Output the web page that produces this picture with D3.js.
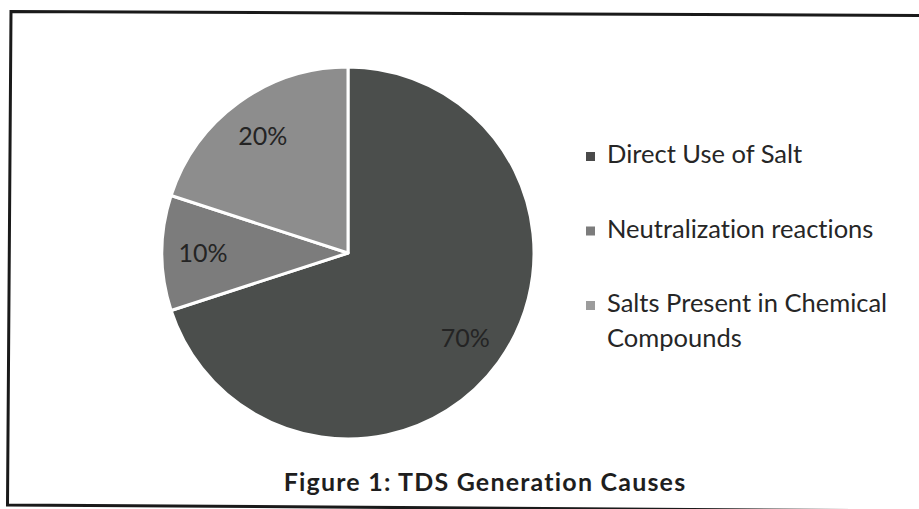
<!DOCTYPE html>
<html>
<head>
<meta charset="utf-8">
<script src="https://cdn.jsdelivr.net/npm/d3@7/dist/d3.min.js"></script>
<style>
  html, body { margin: 0; padding: 0; background: #ffffff; }
  svg { display: block; }
  text { font-variant-ligatures: none; }
</style>
</head>
<body>
<svg id="chart" width="919" height="509"></svg>
<script>
const categories = ["Direct Use of Salt", "Neutralization reactions", "Salts Present in Chemical Compounds"];
const legendLines = [["Direct Use of Salt"], ["Neutralization reactions"], ["Salts Present in Chemical", "Compounds"]];
const values = [70, 10, 20];
const sliceColors = ["#4b4e4c", "#7c7c7c", "#8d8d8d"];
const legendColors = ["#4a4a4a", "#7c7c7c", "#9c9c9c"];
const title = "Figure 1: TDS Generation Causes";

const svg = d3.select("#chart");

// frame of the scanned figure (slightly tilted, right edge outside the picture)
svg.append("path")
  .attr("d", "M 930 15.5 L 11 11.5 L 7.5 505 L 930 511")
  .attr("fill", "none").attr("stroke", "#1a1a1a").attr("stroke-width", 3)
  .attr("stroke-linejoin", "miter");

const cx = 348, cy = 253, r = 186;
const g = svg.append("g").attr("transform", `translate(${cx},${cy})`);

const pie = d3.pie().sort(null).value(d => d)(values);
const arc = d3.arc().innerRadius(0).outerRadius(r);
const labelArc = d3.arc().innerRadius(r * 0.78).outerRadius(r * 0.78);

g.selectAll("path.slice").data(pie).join("path")
  .attr("class", "slice")
  .attr("d", arc)
  .attr("fill", (d, i) => sliceColors[i])
  .attr("stroke", "#ffffff").attr("stroke-width", 3).attr("stroke-linejoin", "round");

const total = d3.sum(values);
g.selectAll("text.lbl").data(pie).join("text")
  .attr("class", "lbl")
  .attr("transform", d => `translate(${labelArc.centroid(d)})`)
  .attr("text-anchor", "middle")
  .attr("dy", "0.36em")
  .attr("font-family", "Lato, 'Open Sans', sans-serif")
  .attr("font-size", 25)
  .attr("fill", "#242424")
  .text(d => Math.round(d.data / total * 100) + "%");

// legend
const legendY = d3.scalePoint().domain(categories).range([163, 312]);
const lg = svg.append("g");
categories.forEach((c, i) => {
  const y = legendY(c);
  lg.append("rect").attr("x", 586).attr("y", y - 11).attr("width", 9).attr("height", 9)
    .attr("fill", legendColors[i]);
  legendLines[i].forEach((line, j) => {
    lg.append("text").attr("x", 607).attr("y", y + j * 35)
      .attr("font-family", "Lato, 'Open Sans', sans-serif")
      .attr("font-size", 25.5)
      .attr("fill", "#262626")
      .text(line);
  });
});

// title
svg.append("text").attr("x", 485).attr("y", 491)
  .attr("text-anchor", "middle")
  .attr("font-family", "Lato, 'Open Sans', sans-serif")
  .attr("font-weight", "bold")
  .attr("font-size", 25)
  .attr("letter-spacing", 1.2)
  .attr("fill", "#1e1e1e")
  .text(title);
</script>
</body>
</html>
